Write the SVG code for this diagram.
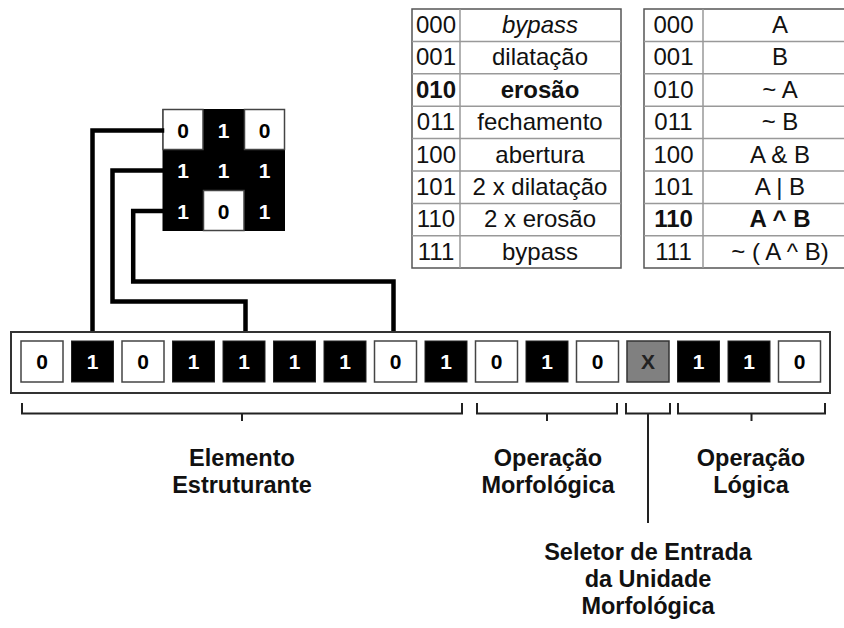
<svg xmlns="http://www.w3.org/2000/svg" width="844" height="628" viewBox="0 0 844 628">
<style>
  .t { font-family: "Liberation Sans", Arial, sans-serif; font-size: 24px; fill: #111; text-anchor: middle; }
  .b { font-weight: bold; }
  .lbl { font-family: "Liberation Sans", Arial, sans-serif; font-size: 23.5px; font-weight: bold; fill: #111; text-anchor: middle; }
  .bit { font-family: "Liberation Sans", Arial, sans-serif; font-size: 21px; font-weight: bold; text-anchor: middle; }
  .w { fill: #fff; stroke: #444; stroke-width: 1.5; }
  .k { fill: #000; stroke: #222; stroke-width: 1; }
  .g { fill: #808080; stroke: #333; stroke-width: 1.5; }
  .wt { fill: #000; }
  .kt { fill: #fff; }
  .tab { fill: #fff; stroke: #555; stroke-width: 1.5; }
  .tl { stroke: #999; stroke-width: 1.5; fill: none; }
  .wire { stroke: #000; stroke-width: 4.5; fill: none; stroke-linejoin: miter; stroke-linecap: square; }
  .br { stroke: #222; stroke-width: 2; fill: none; }
</style>

<!-- Table: morphological operations -->
<g id="table-morph">
  <rect class="tab" x="412" y="9" width="209" height="259"/>
  <path class="tl" d="M460 9V268 M412 41.4H621 M412 73.8H621 M412 106.2H621 M412 138.6H621 M412 171H621 M412 203.4H621 M412 235.8H621"/>
  <text class="t" x="436" y="33">000</text><text class="t" x="540" y="33" font-style="italic">bypass</text>
  <text class="t" x="436" y="65.4">001</text><text class="t" x="540" y="65.4">dilatação</text>
  <text class="t b" x="436" y="97.8">010</text><text class="t b" x="540" y="97.8">erosão</text>
  <text class="t" x="436" y="130.2">011</text><text class="t" x="540" y="130.2">fechamento</text>
  <text class="t" x="436" y="162.6">100</text><text class="t" x="540" y="162.6">abertura</text>
  <text class="t" x="436" y="195">101</text><text class="t" x="540" y="195">2 x dilatação</text>
  <text class="t" x="436" y="227.4">110</text><text class="t" x="540" y="227.4">2 x erosão</text>
  <text class="t" x="436" y="259.8">111</text><text class="t" x="540" y="259.8">bypass</text>
</g>

<!-- Table: logical operations -->
<g id="table-logic">
  <rect class="tab" x="644" y="9" width="210" height="259"/>
  <path class="tl" d="M703 9V268 M644 41.4H844 M644 73.8H844 M644 106.2H844 M644 138.6H844 M644 171H844 M644 203.4H844 M644 235.8H844"/>
  <text class="t" x="673.5" y="33">000</text><text class="t" x="780" y="33">A</text>
  <text class="t" x="673.5" y="65.4">001</text><text class="t" x="780" y="65.4">B</text>
  <text class="t" x="673.5" y="97.8">010</text><text class="t" x="780" y="97.8">~ A</text>
  <text class="t" x="673.5" y="130.2">011</text><text class="t" x="780" y="130.2">~ B</text>
  <text class="t" x="673.5" y="162.6">100</text><text class="t" x="780" y="162.6">A &amp; B</text>
  <text class="t" x="673.5" y="195">101</text><text class="t" x="780" y="195">A | B</text>
  <text class="t b" x="673.5" y="227.4">110</text><text class="t b" x="780" y="227.4">A ^ B</text>
  <text class="t" x="673.5" y="259.8">111</text><text class="t" x="780" y="259.8">~ ( A ^ B)</text>
</g>

<!-- Structuring element matrix -->
<g id="matrix">
  <rect x="162.5" y="109" width="122.5" height="122" fill="#000"/>
  <rect class="w" x="163" y="109.5" width="40" height="40"/>
  <rect class="w" x="244.5" y="109.5" width="40" height="40"/>
  <rect class="w" x="203.5" y="190.5" width="40.5" height="40"/>
  <text class="bit wt" x="183" y="137.5">0</text>
  <text class="bit kt" x="223.5" y="137.5">1</text>
  <text class="bit wt" x="264.5" y="137.5">0</text>
  <text class="bit kt" x="183" y="178">1</text>
  <text class="bit kt" x="223.5" y="178">1</text>
  <text class="bit kt" x="264.5" y="178">1</text>
  <text class="bit kt" x="183" y="218.5">1</text>
  <text class="bit wt" x="223.5" y="218.5">0</text>
  <text class="bit kt" x="264.5" y="218.5">1</text>
</g>

<!-- Connectors -->
<g id="connectors">
  <path class="wire" d="M162 130.5H92.5V331"/>
  <path class="wire" d="M162 170.5H112.5V301.5H245.5V331"/>
  <path class="wire" d="M162 211H133.2V281.5H393.5V331"/>
  <path class="br" d="M22 403V413.5H462V403 M242 413.5V421"/>
  <path class="br" d="M477 403V413.5H617V403 M547 413.5V421"/>
  <path class="br" d="M626 403V413.5H670V403 M648 413.5V523"/>
  <path class="br" d="M678 403V413.5H825V403 M751.5 413.5V421"/>
</g>

<!-- Instruction word -->
<g id="word">
  <rect x="11" y="332" width="819" height="61" fill="#fff" stroke="#333" stroke-width="2"/>
  <g id="bit0"><rect class="w" x="21" y="341" width="42" height="41"/><text class="bit wt" x="42" y="369">0</text></g>
  <g id="bit1"><rect class="k" x="71.5" y="341" width="42" height="41"/><text class="bit kt" x="92.5" y="369">1</text></g>
  <g id="bit2"><rect class="w" x="122" y="341" width="42" height="41"/><text class="bit wt" x="143" y="369">0</text></g>
  <g id="bit3"><rect class="k" x="172.5" y="341" width="42" height="41"/><text class="bit kt" x="193.5" y="369">1</text></g>
  <g id="bit4"><rect class="k" x="223" y="341" width="42" height="41"/><text class="bit kt" x="244" y="369">1</text></g>
  <g id="bit5"><rect class="k" x="273.5" y="341" width="42" height="41"/><text class="bit kt" x="294.5" y="369">1</text></g>
  <g id="bit6"><rect class="k" x="324" y="341" width="42" height="41"/><text class="bit kt" x="345" y="369">1</text></g>
  <g id="bit7"><rect class="w" x="374.5" y="341" width="42" height="41"/><text class="bit wt" x="395.5" y="369">0</text></g>
  <g id="bit8"><rect class="k" x="425" y="341" width="42" height="41"/><text class="bit kt" x="446" y="369">1</text></g>
  <g id="bit9"><rect class="w" x="475.5" y="341" width="42" height="41"/><text class="bit wt" x="496.5" y="369">0</text></g>
  <g id="bit10"><rect class="k" x="526" y="341" width="42" height="41"/><text class="bit kt" x="547" y="369">1</text></g>
  <g id="bit11"><rect class="w" x="576.5" y="341" width="42" height="41"/><text class="bit wt" x="597.5" y="369">0</text></g>
  <g id="bit12"><rect class="g" x="627" y="341" width="42" height="41"/><text class="bit" fill="#222" x="648" y="369">X</text></g>
  <g id="bit13"><rect class="k" x="677.5" y="341" width="42" height="41"/><text class="bit kt" x="698.5" y="369">1</text></g>
  <g id="bit14"><rect class="k" x="728" y="341" width="42" height="41"/><text class="bit kt" x="749" y="369">1</text></g>
  <g id="bit15"><rect class="w" x="778.5" y="341" width="42" height="41"/><text class="bit wt" x="799.5" y="369">0</text></g>
</g>

<!-- Labels -->
<g id="label-elemento">
  <text class="lbl" x="242" y="466">Elemento</text>
  <text class="lbl" x="242" y="493">Estruturante</text>
</g>
<g id="label-morf">
  <text class="lbl" x="548" y="466">Operação</text>
  <text class="lbl" x="548" y="493">Morfológica</text>
</g>
<g id="label-logica">
  <text class="lbl" x="751" y="466">Operação</text>
  <text class="lbl" x="751" y="493">Lógica</text>
</g>
<g id="label-seletor">
  <text class="lbl" x="648" y="560">Seletor de Entrada</text>
  <text class="lbl" x="648" y="587">da Unidade</text>
  <text class="lbl" x="648" y="614">Morfológica</text>
</g>
</svg>
